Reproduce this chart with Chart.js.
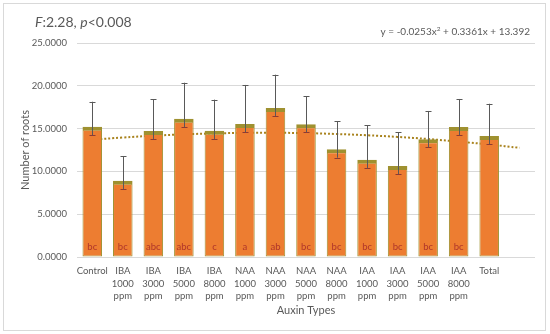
<!DOCTYPE html>
<html><head><meta charset="utf-8">
<script src="https://cdn.jsdelivr.net/npm/chart.js@4.4.0/dist/chart.umd.min.js"></script>
<style>html,body{margin:0;padding:0;background:#fff}#wrap{width:550px;height:334px;position:relative}</style>
</head><body><div id="wrap"><canvas id="c" width="550" height="334"></canvas></div>
<script>
const categories = [["Control"],["IBA","1000","ppm"],["IBA","3000","ppm"],["IBA","5000","ppm"],["IBA","8000","ppm"],["NAA","1000","ppm"],["NAA","3000","ppm"],["NAA","5000","ppm"],["NAA","8000","ppm"],["IAA","1000","ppm"],["IAA","3000","ppm"],["IAA","5000","ppm"],["IAA","8000","ppm"],["Total"],[""]];
const means   = [15.22, 8.92, 14.72, 16.16, 14.76, 15.54, 17.40, 15.50, 12.58, 11.37, 10.63, 13.75, 15.19, 14.14, null];
const errLow  = [14.22, 7.94, 13.75, 15.19, 13.79, 14.57, 16.43, 14.57, 11.60, 10.40, 9.66, 12.80, 14.25, 13.20, null];
const errHigh = [18.14, 11.80, 18.42, 20.36, 18.38, 20.10, 21.30, 18.80, 15.85, 15.38, 14.57, 17.06, 18.46, 17.90, null];
const letters = ["bc","bc","abc","abc","c","a","ab","bc","bc","bc","bc","bc","bc","",""];
const trend   = [13.70, 13.96, 14.17, 14.33, 14.44, 14.50, 14.51, 14.47, 14.37, 14.22, 14.03, 13.78, 13.48, 13.14, 12.75];
const yTicks  = [0, 5, 10, 15, 20, 25];

const FONT = "Lato, 'Open Sans', sans-serif";
const GRAY = "#595959";

const overlay = {
  id: 'overlay',
  beforeDraw(chart) {
    const ctx = chart.ctx;
    ctx.save();
    ctx.fillStyle = '#fff';
    ctx.fillRect(0, 0, chart.width, chart.height);
    ctx.strokeStyle = '#D9D9D9';
    ctx.lineWidth = 1;
    ctx.strokeRect(3.5, 3.5, 542, 327);
    ctx.restore();
  },
  afterDatasetsDraw(chart) {
    const ctx = chart.ctx;
    const x = chart.scales.x, y = chart.scales.y;
    ctx.save();
    // error bars
    ctx.lineWidth = 1;
    for (let i = 0; i < means.length; i++) {
      if (means[i] == null) continue;
      const cx = Math.round(x.getPixelForValue(i)) + 0.5;
      const yl = y.getPixelForValue(errLow[i]);
      const yh = y.getPixelForValue(errHigh[i]);
      ctx.strokeStyle = '#595959';
      ctx.beginPath();
      ctx.moveTo(cx, yl); ctx.lineTo(cx, yh);
      ctx.moveTo(cx - 3, Math.round(yh) + 0.5); ctx.lineTo(cx + 3, Math.round(yh) + 0.5);
      ctx.stroke();
      ctx.strokeStyle = '#8E3A33';
      ctx.beginPath();
      ctx.moveTo(cx - 3, Math.round(yl) + 0.5); ctx.lineTo(cx + 3, Math.round(yl) + 0.5);
      ctx.stroke();
    }
    // letters
    ctx.fillStyle = '#B0362A';
    ctx.font = "9.5px " + FONT;
    ctx.textAlign = 'center';
    ctx.textBaseline = 'middle';
    for (let i = 0; i < letters.length; i++) {
      if (!letters[i]) continue;
      ctx.fillText(letters[i], x.getPixelForValue(i), 247);
    }
    // title
    ctx.fillStyle = GRAY;
    ctx.textAlign = 'left';
    ctx.textBaseline = 'middle';
    const parts = [["F", true], [":2.28, ", false], ["p", true], ["<0.008", false]];
    let tx = 35;
    for (const [t, it] of parts) {
      ctx.font = (it ? "italic " : "") + "14px " + FONT;
      ctx.fillText(t, tx, 22);
      tx += ctx.measureText(t).width;
    }
    // equation
    const eq1 = "y = -0.0253x", sup = "2", eq2 = " + 0.3361x + 13.392";
    ctx.font = "10px " + FONT;
    const w1 = ctx.measureText(eq1).width, w2 = ctx.measureText(eq2).width;
    ctx.font = "6.5px " + FONT;
    const ws = ctx.measureText(sup).width;
    let ex = 530 - (w1 + ws + w2);
    ctx.font = "10px " + FONT;
    ctx.fillText(eq1, ex, 32); ex += w1;
    ctx.font = "6.5px " + FONT;
    ctx.fillText(sup, ex, 28.5); ex += ws;
    ctx.font = "10px " + FONT;
    ctx.fillText(eq2, ex, 32);
    // axis titles
    ctx.font = "11px " + FONT;
    ctx.textAlign = 'center';
    ctx.fillText("Auxin Types", (x.left + x.right) / 2, 310);
    ctx.translate(25, (y.top + y.bottom) / 2);
    ctx.rotate(-Math.PI / 2);
    ctx.fillText("Number of roots", 0, 0);
    ctx.restore();
  }
};

new Chart(document.getElementById('c'), {
  data: {
    labels: categories,
    datasets: [
      {
        type: 'bar', data: means, order: 1,
        backgroundColor: '#ED7D31', borderColor: '#9F9130',
        borderWidth: {top: 4, left: 1, right: 1, bottom: 1}, borderSkipped: false,
        categoryPercentage: 1, barPercentage: 0.64
      },
      {
        type: 'line', data: trend, order: 2,
        borderColor: '#A8821C', borderWidth: 2, borderDash: [2, 2],
        pointRadius: 0, fill: false, tension: 0.4
      }
    ]
  },
  options: {
    responsive: false, animation: false,
    layout: {padding: {left: 0, top: 43, right: 15, bottom: 0}},
    plugins: {legend: {display: false}, tooltip: {enabled: false}},
    scales: {
      x: {
        grid: {display: false, drawTicks: false},
        border: {display: false},
        ticks: {color: GRAY, font: {family: FONT, size: 9.5, lineHeight: 1.3}, maxRotation: 0, autoSkip: false, padding: 8},
        afterFit(s) { s.height = 77; }
      },
      y: {
        min: 0, max: 25,
        afterBuildTicks(s) { s.ticks = yTicks.map(v => ({value: v})); },
        grid: {color: '#D9D9D9', drawTicks: false},
        border: {display: false},
        ticks: {color: GRAY, font: {family: FONT, size: 9.5}, padding: 10, callback: v => Number(v).toFixed(4)},
        afterFit(s) { s.width = 77; }
      }
    }
  },
  plugins: [overlay]
});
</script></body></html>
